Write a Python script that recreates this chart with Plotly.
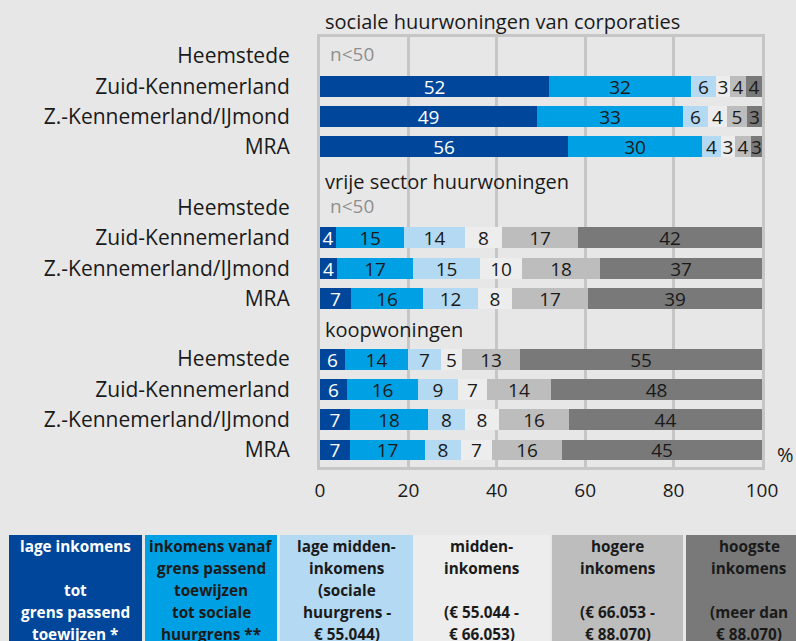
import plotly.graph_objects as go

# ---------------- data ----------------
groups = ["sociale huurwoningen van corporaties", "vrije sector huurwoningen", "koopwoningen"]
regions = ["Heemstede", "Zuid-Kennemerland", "Z.-Kennemerland/IJmond", "MRA"]
small_sample = [True, True, False]   # Heemstede n<50 per group

series_names = ["lage inkomens", "inkomens vanaf grens passend toewijzen",
                "lage middeninkomens", "middeninkomens", "hogere inkomens", "hoogste inkomens"]

# 12 values each: 3 groups x 4 regions (Heemstede, ZK, ZK/IJmond, MRA)
lage_inkomens      = [None, 51.8, 49.1, 56.0,  None, 3.6, 3.8, 7.1,   5.7, 6.2, 6.8, 6.8]
vanaf_passend      = [None, 32.2, 33.0, 30.4,  None, 15.4, 17.3, 16.2, 14.3, 16.0, 17.6, 16.9]
lage_midden        = [None, 5.6, 5.6, 4.4,     None, 13.8, 15.1, 12.4, 7.3, 9.0, 8.4, 8.2]
midden             = [None, 3.2, 4.4, 3.0,     None, 8.3, 9.6, 7.7,    4.9, 6.6, 7.6, 7.0]
hogere             = [None, 3.6, 4.6, 3.6,     None, 17.3, 17.6, 17.3, 13.0, 14.4, 16.0, 15.9]
hoogste            = [None, 3.6, 3.3, 2.6,     None, 41.6, 36.6, 39.3, 54.8, 47.8, 43.6, 45.2]

x_ticks = [0, 20, 40, 60, 80, 100]

legend_lines = [
    ["lage inkomens", "", "tot", "grens passend", "toewijzen *"],
    ["inkomens vanaf", "grens passend", "toewijzen", "tot sociale", "huurgrens **"],
    ["lage midden-", "inkomens", "(sociale", "huurgrens -", "€ 55.044)"],
    ["midden-", "inkomens", "", "(€ 55.044 -", "€ 66.053)"],
    ["hogere", "inkomens", "", "(€ 66.053 -", "€ 88.070)"],
    ["hoogste", "inkomens", "", "(meer dan", "€ 88.070)"],
]

# ---------------- styling ----------------
colors = ["#00479b", "#00a1e4", "#b3d9f3", "#ededed", "#bdbdbd", "#797979"]
text_colors = ["white", "#1a1a1a", "#1a1a1a", "#1a1a1a", "#1a1a1a", "#1a1a1a"]
BG = "#e7e7e7"
GRID = "#c6c6c6"
FONT = "Open Sans"

W, H = 796, 641
ML, MR, MT, MB = 320, 34, 37, 174
PW, PH = W - ML - MR, H - MT - MB

def px_x(px):
    return (px - ML) / PW

def px_y(py):
    return (H - MB - py) / PH

# row positions: header row then 4 region rows per group
row_y = []
header_y = []
for g in range(len(groups)):
    header_y.append(g * 5)
    for r in range(len(regions)):
        row_y.append(g * 5 + 1 + r)

all_series = [lage_inkomens, vanaf_passend, lage_midden, midden, hogere, hoogste]

fig = go.Figure()
for name, vals, col, tcol in zip(series_names, all_series, colors, text_colors):
    fig.add_trace(go.Bar(
        x=vals, y=row_y, orientation="h", name=name,
        marker=dict(color=col, line=dict(width=0)),
        width=0.69,
        text=[("" if v is None else f"{v:.0f}") for v in vals],
        textposition="inside", insidetextanchor="middle", textangle=0,
        textfont=dict(family=FONT, size=19, color=tcol),
        hoverinfo="skip", showlegend=False,
    ))

annotations = []
hdr_shift = [0, -4, -1]
for g, name in enumerate(groups):
    if g == 0:
        # header above the plot frame
        annotations.append(dict(x=0, y=px_y(22), xref="x", yref="paper", text=name,
                                xanchor="left", yanchor="middle", xshift=3,
                                showarrow=False, font=dict(family=FONT, size=20, color="#1a1a1a")))
    else:
        annotations.append(dict(x=0, y=header_y[g], xref="x", yref="y", text=name,
                                xanchor="left", yanchor="middle", xshift=3, yshift=hdr_shift[g],
                                showarrow=False, font=dict(family=FONT, size=20, color="#1a1a1a")))
    if small_sample[g]:
        annotations.append(dict(x=0, y=header_y[g] + 1, xref="x", yref="y", text="n<50",
                                xanchor="left", yanchor="middle", xshift=8, yshift=2,
                                showarrow=False, font=dict(family=FONT, size=19, color="#8f8f8f")))

annotations.append(dict(x=100, y=row_y[-1], xref="x", yref="y", text="%", xanchor="left",
                        yanchor="middle", xshift=13, yshift=-4, showarrow=False,
                        font=dict(family=FONT, size=20, color="#1a1a1a")))

# legend boxes
box_px = [(9, 142), (145, 277), (280, 413), (413, 550), (552, 683), (686, 812)]
line_px = [546, 568, 590, 612, 634]
shapes = []
for (x0, x1), col, tcol, lines in zip(box_px, colors, text_colors, legend_lines):
    shapes.append(dict(type="rect", xref="paper", yref="paper",
                       x0=px_x(x0), x1=px_x(x1), y0=px_y(535), y1=px_y(700),
                       fillcolor=col, line=dict(width=0), layer="above"))
    for ly, t in zip(line_px, lines):
        if t:
            annotations.append(dict(x=px_x((x0 + x1) / 2), y=px_y(ly), xref="paper", yref="paper",
                                    text=t, xanchor="center", yanchor="middle", showarrow=False,
                                    font=dict(family=FONT, size=15.3, color=tcol, weight="bold")))

fig.update_layout(
    width=W, height=H,
    margin=dict(l=ML, r=MR, t=MT, b=MB, pad=0),
    barmode="stack", bargap=0,
    paper_bgcolor=BG, plot_bgcolor=BG,
    font=dict(family=FONT, color="#1a1a1a"),
    uniformtext=dict(mode="show", minsize=19),
    annotations=annotations, shapes=shapes,
    xaxis=dict(range=[0, 100], tickvals=x_ticks, showgrid=True, gridcolor=GRID, gridwidth=2.5,
               zeroline=False, showline=True, mirror=True, linecolor=GRID, linewidth=3,
               ticks="", ticklabelstandoff=4, tickfont=dict(family=FONT, size=19, color="#1a1a1a"),
               fixedrange=True),
    yaxis=dict(range=[14.56, 0.373], tickvals=row_y, ticktext=regions * len(groups),
               showgrid=False, zeroline=False, showline=True, mirror=True, linecolor=GRID,
               linewidth=3, ticks="", ticklabelstandoff=23,
               tickfont=dict(family=FONT, size=21, color="#1a1a1a"), fixedrange=True),
)

fig.write_html("out.html", config={"displayModeBar": False},
               post_script="document.body.style.margin='0';document.body.style.overflow='hidden';")
